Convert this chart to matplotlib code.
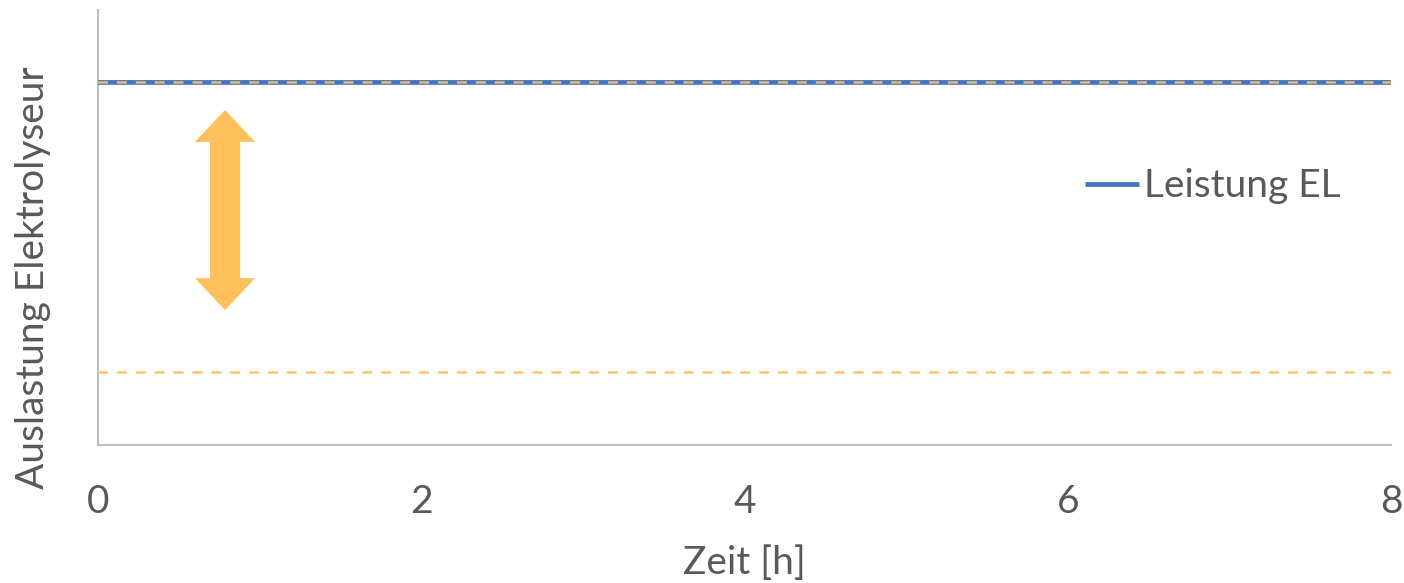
import matplotlib
matplotlib.use('Agg')
import matplotlib.pyplot as plt
from matplotlib.patches import Polygon

# Betriebsdaten Elektrolyseur
zeit = [0, 8]
leistung_el = [1.0, 1.0]
last_max = 1.0
last_min = 0.2
x_ticks = [0, 2, 4, 6, 8]

blau = '#4472C4'
orange = '#FFC05A'
grau = '#595959'

plt.rcParams['font.family'] = ['Lato', 'DejaVu Sans']

fig = plt.figure(figsize=(14.04, 5.83), dpi=100)
ax = fig.add_axes([0.0698, 0.2367, 0.9209, 0.7463])

ax.plot(zeit, leistung_el, color=blau, lw=3.4, solid_capstyle='butt',
        label='Leistung EL', zorder=3, snap=False)
ax.plot(zeit, [last_max] * 2, color=orange, lw=1.6, ls=(0, (4.5, 4)),
        zorder=4, snap=False)
ax.plot(zeit, [last_min] * 2, color=orange, lw=1.6, ls=(0, (4.5, 4)),
        zorder=4, snap=False)

# Doppelpfeil fuer den Lastbereich
px = 0.786
y_oben, y_unten = 0.924, 0.372
hb, sb, hl = 0.186, 0.093, 0.088
pfeil = Polygon([(px, y_oben), (px + hb, y_oben - hl), (px + sb, y_oben - hl),
                 (px + sb, y_unten + hl), (px + hb, y_unten + hl), (px, y_unten),
                 (px - hb, y_unten + hl), (px - sb, y_unten + hl),
                 (px - sb, y_oben - hl), (px - hb, y_oben - hl)],
                closed=True, facecolor=orange, edgecolor='none', zorder=2)
ax.add_patch(pfeil)

ax.set_xlim(0, 8)
ax.set_ylim(0, 1.2)
ax.set_xticks(x_ticks)
ax.set_yticks([])
ax.tick_params(axis='x', length=0, pad=28, labelsize=28, labelcolor=grau)
for s in ['top', 'right']:
    ax.spines[s].set_visible(False)
for s in ['left', 'bottom']:
    ax.spines[s].set_color('#BFBFBF')
    ax.spines[s].set_linewidth(1.5)

ax.set_xlabel('Zeit [h]', fontsize=28, color=grau, labelpad=18)
ax.set_ylabel('Auslastung Elektrolyseur', fontsize=28, color=grau)
ax.yaxis.set_label_coords(-0.036, 0.384)

ax.legend(loc='center left', bbox_to_anchor=(0.763, 0.595), frameon=False,
          fontsize=28, labelcolor=grau, handlelength=1.41, handletextpad=0.13,
          borderaxespad=0, borderpad=0)

fig.savefig('out.png', dpi=100)
